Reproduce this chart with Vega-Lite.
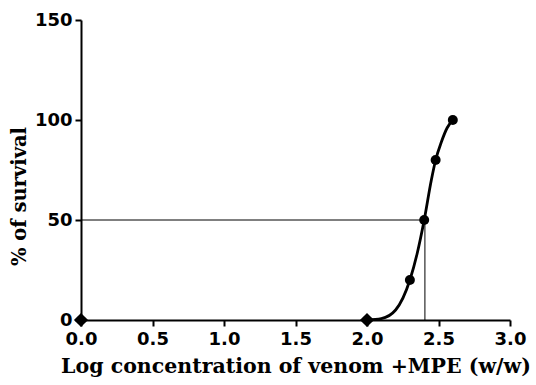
{
  "$schema": "https://vega.github.io/schema/vega-lite/v6.json",
  "width": 429,
  "height": 300,
  "autosize": "none",
  "padding": {"left": 81, "top": 20, "right": 26, "bottom": 65},
  "background": "white",
  "config": {
    "view": {"stroke": null},
    "axis": {
      "grid": false,
      "labelFlush": false,
      "domainColor": "black",
      "domainWidth": 2,
      "tickColor": "black",
      "tickWidth": 2,
      "tickSize": 6,
      "labelFont": "DejaVu Sans",
      "labelFontWeight": "bold",
      "labelFontSize": 18,
      "labelColor": "black",
      "titleFont": "DejaVu Serif",
      "titleFontWeight": "bold",
      "titleColor": "black"
    }
  },
  "datasets": {
    "obs": [
      {"x": 2.3, "y": 20, "shape": "circle"},
      {"x": 2.4, "y": 50, "shape": "circle"},
      {"x": 2.48, "y": 80, "shape": "circle"},
      {"x": 2.6, "y": 100, "shape": "circle"},
      {"x": 0.0, "y": 0, "shape": "diamond"},
      {"x": 2.0, "y": 0, "shape": "diamond"}
    ],
    "curve": [
      {"x": 2.0, "y": 0},
      {"x": 2.1, "y": 0.7},
      {"x": 2.2, "y": 5},
      {"x": 2.3, "y": 20},
      {"x": 2.35, "y": 33},
      {"x": 2.4, "y": 50},
      {"x": 2.45, "y": 70},
      {"x": 2.48, "y": 80},
      {"x": 2.52, "y": 89},
      {"x": 2.56, "y": 96},
      {"x": 2.6, "y": 100}
    ],
    "refs": [
      {"x": 0, "x2": 2.405, "y": 50, "y2": 50},
      {"x": 2.405, "x2": 2.405, "y": 0, "y2": 50}
    ]
  },
  "layer": [
    {
      "data": {"name": "refs"},
      "mark": {"type": "rule", "color": "black", "strokeWidth": 1},
      "encoding": {
        "x": {"field": "x", "type": "quantitative", "scale": {"domain": [0, 3], "nice": false, "zero": false, "padding": 0},
          "axis": {"values": [0, 0.5, 1, 1.5, 2, 2.5, 3], "format": ".1f", "labelPadding": 4,
            "title": "Log concentration of venom +MPE (w/w)", "titleFontSize": 20.5, "titlePadding": 8}},
        "x2": {"field": "x2"},
        "y": {"field": "y", "type": "quantitative", "scale": {"domain": [0, 150], "nice": false, "zero": false, "padding": 0},
          "axis": {"values": [0, 50, 100, 150], "labelPadding": 3,
            "title": "% of survival", "titleFontSize": 19.5, "titlePadding": 5, "titleY": 176}},
        "y2": {"field": "y2"}
      }
    },
    {
      "data": {"name": "curve"},
      "mark": {"type": "line", "color": "black", "strokeWidth": 2.8, "interpolate": "monotone"},
      "encoding": {
        "x": {"field": "x", "type": "quantitative", "scale": {"domain": [0, 3], "nice": false, "zero": false, "padding": 0}},
        "y": {"field": "y", "type": "quantitative", "scale": {"domain": [0, 150], "nice": false, "zero": false, "padding": 0}}
      }
    },
    {
      "data": {"name": "obs"},
      "mark": {"type": "point", "filled": true, "color": "black", "opacity": 1, "size": 100},
      "encoding": {
        "x": {"field": "x", "type": "quantitative", "scale": {"domain": [0, 3], "nice": false, "zero": false, "padding": 0}},
        "y": {"field": "y", "type": "quantitative", "scale": {"domain": [0, 150], "nice": false, "zero": false, "padding": 0}},
        "shape": {"field": "shape", "type": "nominal", "scale": {"domain": ["circle", "diamond"], "range": ["circle", "diamond"]}, "legend": null},
        "size": {"field": "shape", "type": "nominal", "scale": {"domain": ["circle", "diamond"], "range": [100, 200]}, "legend": null}
      }
    }
  ]
}
